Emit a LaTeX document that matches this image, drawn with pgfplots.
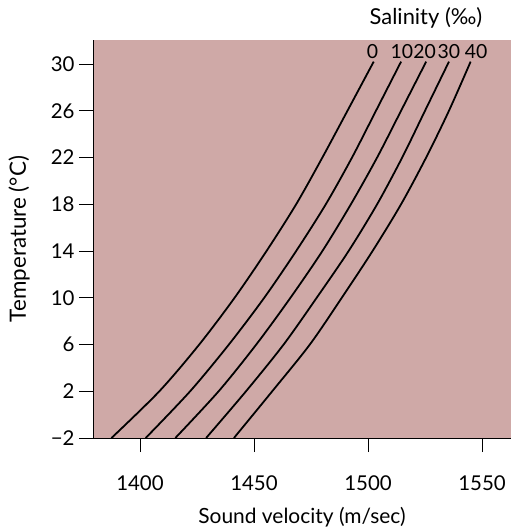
\documentclass[border=0pt]{standalone}
\usepackage{pgfplots}
\pgfplotsset{compat=1.18}
\usepackage{fontspec}
\setmainfont{Lato}
\definecolor{bgrose}{RGB}{207,169,167}
\pgfplotstableread{
T S0 S10 S20 S30 S40
-2 1387.5 1402.5 1415.5 1429 1441.2
2 1408.5 1422 1434.5 1446.5 1458
6 1426 1439 1451 1463 1474.5
10 1441.5 1454.5 1466 1477.5 1488.5
14 1455.5 1468.5 1480 1491.5 1502
18 1468.5 1481.5 1492.5 1504 1514.5
22 1480 1493 1504 1515 1525.5
26 1491 1503.5 1514.5 1525 1535.5
30.2 1502.5 1514.5 1525.5 1535.5 1545
}\sal
\begin{document}
\begin{tikzpicture}
\useasboundingbox (0,0) rectangle (512bp,532bp);
\begin{axis}[
  at={(93bp,94bp)}, anchor=south west,
  scale only axis, width=418bp, height=398bp,
  xmin=1379.4, xmax=1562.7, ymin=-2, ymax=32.05,
  axis x line*=bottom, axis y line*=left,
  axis line style={line width=1pt},
  axis background/.style={fill=bgrose},
  xtick={1400,1450,1500,1550}, ytick={-2,2,...,30},
  xticklabels={1400,1450,1500,1550},
  yticklabels={−2,2,6,10,14,18,22,26,30},
  tick align=outside, major tick length=14bp,
  tick style={line width=0.8pt, black},
  ticklabel style={font=\fontsize{20.5}{24}\selectfont},
  xticklabel style={yshift=-20bp},
  yticklabel style={xshift=-1bp},
  xlabel={Sound velocity (m/sec)},
  ylabel={Temperature (°C)},
  xlabel style={font=\fontsize{21}{25}\selectfont, at={(axis description cs:0.5,-0.1985)}, anchor=center},
  ylabel style={font=\fontsize{22.5}{26}\selectfont, at={(axis description cs:-0.177,0.5)}, anchor=center},
  clip=false,
]
\foreach \s in {S0,S10,S20,S30,S40}{
  \addplot[black, line width=1.8pt, smooth, no markers] table[x=\s, y=T] {\sal};
}
\node[font=\fontsize{19.5}{22}\selectfont] at (axis cs:1502,31.1) {0};
\node[font=\fontsize{19.5}{22}\selectfont] at (axis cs:1514.8,31.1) {10};
\node[font=\fontsize{19.5}{22}\selectfont] at (axis cs:1524.8,31.1) {20};
\node[font=\fontsize{19.5}{22}\selectfont] at (axis cs:1535.5,31.1) {30};
\node[font=\fontsize{19.5}{22}\selectfont] at (axis cs:1547.4,31.1) {40};
\node[font=\fontsize{22}{26}\selectfont] at (axis cs:1525.4,33.95) {Salinity (‰)};
\end{axis}
\end{tikzpicture}
\end{document}
